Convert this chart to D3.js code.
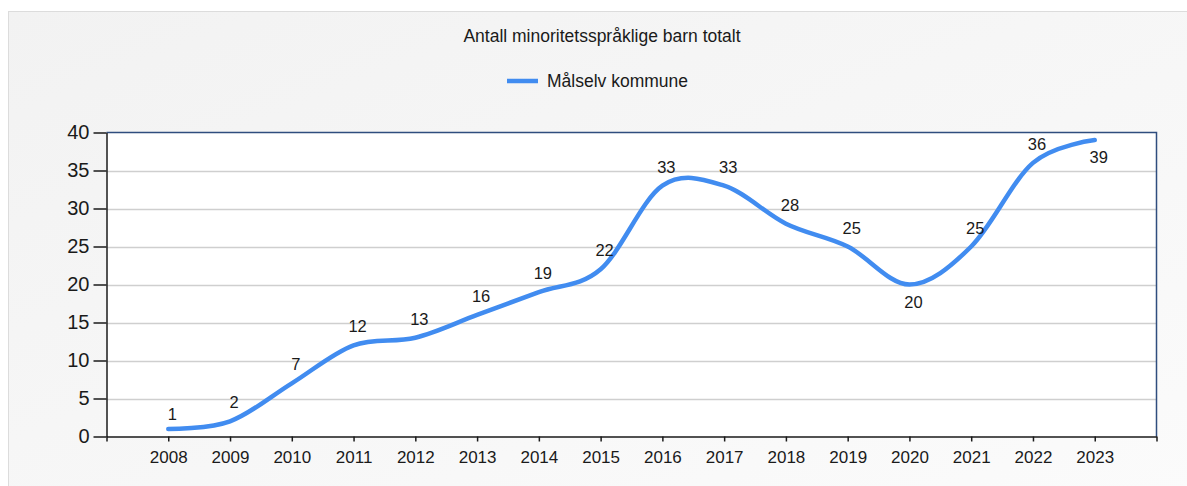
<!DOCTYPE html>
<html>
<head>
<meta charset="utf-8">
<script src="https://cdn.jsdelivr.net/npm/d3@7"></script>
<style>
  html, body { margin: 0; padding: 0; background: #ffffff; }
  svg { display: block; }
  text { font-family: "Liberation Sans", Arial, sans-serif; fill: #1a1a1a; }
</style>
</head>
<body>
<svg id="chart" width="1187" height="486"></svg>
<script>
const title = "Antall minoritetsspråklige barn totalt";
const seriesName = "Målselv kommune";
const years = [2008, 2009, 2010, 2011, 2012, 2013, 2014, 2015, 2016, 2017, 2018, 2019, 2020, 2021, 2022, 2023];
const values = [1, 2, 7, 12, 13, 16, 19, 22, 33, 33, 28, 25, 20, 25, 36, 39];
const yTicks = [0, 5, 10, 15, 20, 25, 30, 35, 40];

const W = 1187, H = 486;
const svg = d3.select("#chart");
const defs = svg.append("defs");
const grad = defs.append("linearGradient").attr("id", "bg")
  .attr("x1", "0").attr("y1", "0").attr("x2", "1").attr("y2", "1");
grad.append("stop").attr("offset", "0").attr("stop-color", "#f2f2f2");
grad.append("stop").attr("offset", "1").attr("stop-color", "#fbfbfb");

// outer panel
svg.append("rect").attr("x", 8.5).attr("y", 11.5).attr("width", W).attr("height", H)
  .attr("fill", "url(#bg)").attr("stroke", "#dcdcdc").attr("stroke-width", 1);

const plot = { left: 106.5, right: 1156.5, top: 132.5, bottom: 436.5 };

const x = d3.scaleLinear().domain([2007, 2024]).range([plot.left, plot.right]);
const y = d3.scaleLinear().domain([0, 40]).range([plot.bottom, plot.top]);

// plot background
svg.append("rect").attr("x", plot.left).attr("y", plot.top)
  .attr("width", plot.right - plot.left).attr("height", plot.bottom - plot.top)
  .attr("fill", "#ffffff");

// gridlines
svg.append("g").selectAll("line").data(yTicks.filter(d => d > 0 && d < 40)).join("line")
  .attr("x1", plot.left).attr("x2", plot.right)
  .attr("y1", d => Math.round(y(d)) + 0.5).attr("y2", d => Math.round(y(d)) + 0.5)
  .attr("stroke", "#cfcfcf").attr("stroke-width", 1.5);

// top & right frame
svg.append("path")
  .attr("d", `M${plot.left},${plot.top}H${plot.right}V${plot.bottom}`)
  .attr("fill", "none").attr("stroke", "#2f4d7e").attr("stroke-width", 1.5);

// y axis
const yAxis = svg.append("g").attr("transform", `translate(${plot.left},0)`)
  .call(d3.axisLeft(y).tickValues(yTicks).tickSize(13).tickPadding(4).tickSizeOuter(0));
yAxis.select(".domain").attr("stroke", "#1a1a1a").attr("stroke-width", 1.5);
yAxis.selectAll(".tick line").attr("stroke", "#1a1a1a").attr("stroke-width", 1.5);
yAxis.selectAll(".tick text").attr("font-size", "20px").attr("fill", "#1a1a1a")
  .style("font-family", "'Liberation Sans', Arial, sans-serif");

// x axis
const xTickVals = d3.range(2007, 2025);
const xAxis = svg.append("g").attr("transform", `translate(0,${plot.bottom})`)
  .call(d3.axisBottom(x).tickValues(xTickVals).tickSize(5).tickPadding(9).tickSizeOuter(0)
    .tickFormat(d => years.includes(d) ? String(d) : ""));
xAxis.select(".domain").attr("stroke", "#1a1a1a").attr("stroke-width", 1.5);
xAxis.selectAll(".tick line").attr("stroke", "#1a1a1a").attr("stroke-width", 1.5);
xAxis.selectAll(".tick text").attr("font-size", "17px").attr("fill", "#1a1a1a")
  .style("font-family", "'Liberation Sans', Arial, sans-serif");

// line
const pts = years.map((yr, i) => ({ yr, v: values[i] }));
const line = d3.line().x(d => x(d.yr)).y(d => y(d.v)).curve(d3.curveCardinal.tension(0));
svg.append("path").datum(pts).attr("d", line)
  .attr("fill", "none").attr("stroke", "#418cf0").attr("stroke-width", 4.5)
  .attr("stroke-linecap", "round").attr("stroke-linejoin", "round");

// data labels: below for local minima and the last point, otherwise above
function below(i) {
  if (i === values.length - 1) return true;
  return i > 0 && values[i] < values[i - 1] && values[i] < values[i + 1];
}
svg.append("g").selectAll("text").data(pts).join("text")
  .attr("x", d => x(d.yr) + 4)
  .attr("y", (d, i) => below(i) ? y(d.v) + 23 : y(d.v) - (i === 0 ? 9 : 13))
  .attr("text-anchor", "middle").attr("font-size", "16.5px")
  .text(d => d.v);

// title
svg.append("text").attr("x", 602).attr("y", 42).attr("text-anchor", "middle")
  .attr("font-size", "17.5px").text(title);

// legend
svg.append("line").attr("x1", 507).attr("x2", 538).attr("y1", 81).attr("y2", 81)
  .attr("stroke", "#418cf0").attr("stroke-width", 4.5);
svg.append("text").attr("x", 547).attr("y", 87).attr("font-size", "17.5px").text(seriesName);
</script>
</body>
</html>
